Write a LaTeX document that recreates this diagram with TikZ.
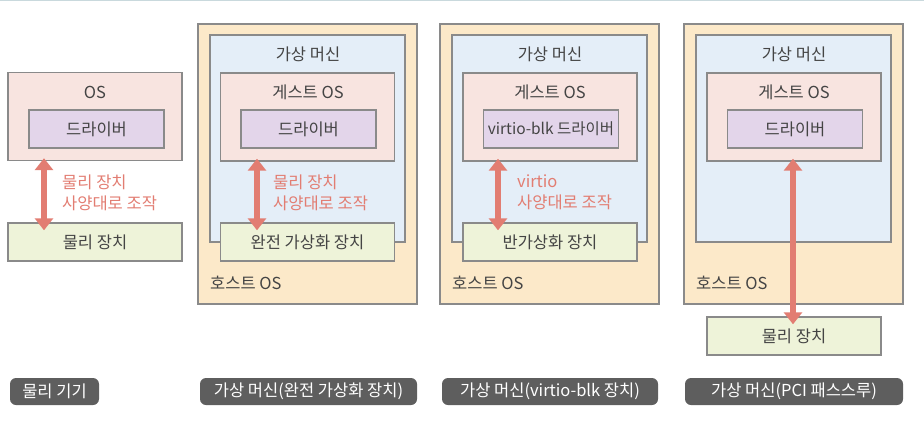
\documentclass[tikz,border=0pt]{standalone}
\usepackage{fontspec}
\setmainfont{Noto Sans CJK KR}
\usetikzlibrary{arrows.meta}
\definecolor{hostfill}{HTML}{FCE9C9}
\definecolor{vmfill}{HTML}{E4EEF8}
\definecolor{osfill}{HTML}{F8E4E0}
\definecolor{drvfill}{HTML}{E3D5EA}
\definecolor{devfill}{HTML}{EEF3D9}
\definecolor{boxline}{HTML}{8A8A8A}
\definecolor{arrowred}{HTML}{E27D72}
\definecolor{pillgray}{HTML}{5E5E5E}
\definecolor{txtgray}{HTML}{444444}
\definecolor{topline}{HTML}{C9D9DD}
\begin{document}
\begin{tikzpicture}[x=1pt, y=-1pt,
	every node/.style={font=\fontsize{16.5}{21}\selectfont, text=txtgray},
	box/.style={draw=boxline, line width=1.4pt, rectangle, inner sep=0pt},
	hostbox/.style={box, fill=hostfill, minimum width=219pt, minimum height=280pt},
	vmbox/.style={box, fill=vmfill, minimum width=195pt, minimum height=207pt},
	osbox/.style={box, fill=osfill, minimum width=174pt, minimum height=88pt},
	drvbox/.style={box, fill=drvfill, minimum width=135pt, minimum height=38pt},
	devbox/.style={box, fill=devfill, minimum width=174pt, minimum height=38pt},
	title/.style={inner sep=0pt},
	note/.style={inner sep=0pt, anchor=west, align=left, text=arrowred},
	pill/.style={rectangle, rounded corners=6pt, fill=pillgray, text=white, minimum height=27pt, inner sep=0pt},
	biarrow/.style={draw=arrowred, line width=6pt, {Triangle[width=18pt,length=12pt]}-{Triangle[width=18pt,length=12pt]}}]
	\useasboundingbox (0,0) rectangle (924,426);
	\draw[draw=topline, line width=2pt] (0,0) -- (924,0);

	% physical machine
	\node[osbox] (OS) at (95,116.5) {};
	\node[title] (OS title) at (95,92) {OS};
	\node[drvbox] (Treiber1) at (96.5,129) {드라이버};
	\node[devbox] (Geraet1) at (95,242) {물리 장치};
	\draw[biarrow] ([xshift=-51pt,yshift=3pt]OS.south) -- ([xshift=-51pt,yshift=-8pt]Geraet1.north);
	\node[note] (Hinweis1) at (62,192.5) {물리 장치\\사양대로 조작};
	\node[pill, minimum width=89pt] (Pill1) at (54.5,391.5) {물리 기기};

	% full virtualization
	\node[hostbox] (Host2) at (307.5,164) {};
	\node[vmbox] (VM2) at (307.5,138.5) {};
	\node[osbox] (Gast2) at (307.5,117) {};
	\node[title] (VM2 title) at (308,54) {가상 머신};
	\node[title] (Gast2 title) at (308,92) {게스트 OS};
	\node[drvbox] (Treiber2) at (308.5,129) {드라이버};
	\node[devbox] (Geraet2) at (307.5,242) {완전 가상화 장치};
	\node[title, anchor=west] (Host2 title) at (210,283) {호스트 OS};
	\draw[biarrow] ([xshift=-50.5pt,yshift=3pt]Gast2.south) -- ([xshift=-50.5pt,yshift=-8pt]Geraet2.north);
	\node[note] (Hinweis2) at (273,192.5) {물리 장치\\사양대로 조작};
	\node[pill, minimum width=217pt] (Pill2) at (308.5,391.5) {가상 머신(완전 가상화 장치)};

	% virtio-blk
	\node[hostbox] (Host3) at (549.5,164) {};
	\node[vmbox] (VM3) at (549.5,138.5) {};
	\node[osbox] (Gast3) at (550,117) {};
	\node[title] (VM3 title) at (550,54) {가상 머신};
	\node[title] (Gast3 title) at (550,92) {게스트 OS};
	\node[drvbox, font=\fontsize{15.5}{21}\selectfont] (Treiber3) at (551,129) {virtio-blk 드라이버};
	\node[devbox] (Geraet3) at (550,242) {반가상화 장치};
	\node[title, anchor=west] (Host3 title) at (452,283) {호스트 OS};
	\draw[biarrow] ([xshift=-52pt,yshift=3pt]Gast3.south) -- ([xshift=-52pt,yshift=-8pt]Geraet3.north);
	\node[note] (Hinweis3) at (517,192.5) {virtio\\사양대로 조작};
	\node[pill, minimum width=216pt] (Pill3) at (550,391.5) {가상 머신(virtio-blk 장치)};

	% PCI passthrough
	\node[hostbox] (Host4) at (793.5,164) {};
	\node[vmbox] (VM4) at (793.5,138.5) {};
	\node[osbox] (Gast4) at (794,117) {};
	\node[title] (VM4 title) at (794,54) {가상 머신};
	\node[title] (Gast4 title) at (794,92) {게스트 OS};
	\node[drvbox] (Treiber4) at (795,129) {드라이버};
	\node[devbox] (Geraet4) at (794,336) {물리 장치};
	\node[title, anchor=west] (Host4 title) at (696,283) {호스트 OS};
	\draw[biarrow] ([xshift=-1pt,yshift=3pt]Gast4.south) -- ([xshift=-1pt,yshift=-8pt]Geraet4.north);
	\node[pill, minimum width=218pt] (Pill4) at (794,391.5) {가상 머신(PCI 패스스루)};
\end{tikzpicture}
\end{document}
